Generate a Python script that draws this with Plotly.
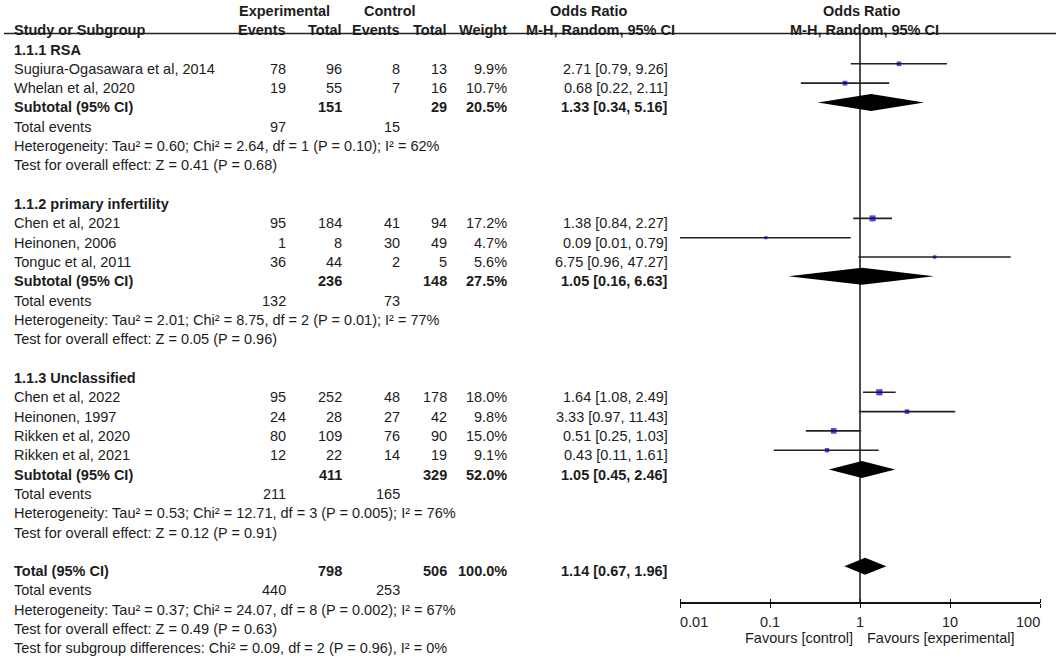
import numpy as np
import plotly.graph_objects as go

# study level data
studies = ["Sugiura-Ogasawara et al, 2014", "Whelan et al, 2020",
           "Chen et al, 2021", "Heinonen, 2006", "Tonguc et al, 2011",
           "Chen et al, 2022", "Heinonen, 1997", "Rikken et al, 2020", "Rikken et al, 2021"]
study_group = [0, 0, 1, 1, 1, 2, 2, 2, 2]
exp_events = [78, 19, 95, 1, 36, 95, 24, 80, 12]
exp_total = [96, 55, 184, 8, 44, 252, 28, 109, 22]
ctl_events = [8, 7, 41, 30, 2, 48, 27, 76, 14]
ctl_total = [13, 16, 94, 49, 5, 178, 42, 90, 19]
weight = [9.9, 10.7, 17.2, 4.7, 5.6, 18.0, 9.8, 15.0, 9.1]
or_est = [2.71, 0.68, 1.38, 0.09, 6.75, 1.64, 3.33, 0.51, 0.43]
or_lo = [0.79, 0.22, 0.84, 0.01, 0.96, 1.08, 0.97, 0.25, 0.11]
or_hi = [9.26, 2.11, 2.27, 0.79, 47.27, 2.49, 11.43, 1.03, 1.61]

# subgroup data
group_names = ["1.1.1 RSA", "1.1.2 primary infertility", "1.1.3 Unclassified"]
sub_exp_total = [151, 236, 411]
sub_ctl_total = [29, 148, 329]
sub_weight = [20.5, 27.5, 52.0]
sub_est = [1.33, 1.05, 1.05]
sub_lo = [0.34, 0.16, 0.45]
sub_hi = [5.16, 6.63, 2.46]
sub_exp_events = [97, 132, 211]
sub_ctl_events = [15, 73, 165]
sub_het = ["Heterogeneity: Tau² = 0.60; Chi² = 2.64, df = 1 (P = 0.10); I² = 62%",
           "Heterogeneity: Tau² = 2.01; Chi² = 8.75, df = 2 (P = 0.01); I² = 77%",
           "Heterogeneity: Tau² = 0.53; Chi² = 12.71, df = 3 (P = 0.005); I² = 76%"]
sub_test = ["Test for overall effect: Z = 0.41 (P = 0.68)",
            "Test for overall effect: Z = 0.05 (P = 0.96)",
            "Test for overall effect: Z = 0.12 (P = 0.91)"]

# overall
tot_exp_total, tot_ctl_total, tot_weight = 798, 506, 100.0
tot_est, tot_lo, tot_hi = 1.14, 0.67, 1.96
tot_exp_events, tot_ctl_events = 440, 253
tot_het = "Heterogeneity: Tau² = 0.37; Chi² = 24.07, df = 8 (P = 0.002); I² = 67%"
tot_test = "Test for overall effect: Z = 0.49 (P = 0.63)"
subgroup_test = "Test for subgroup differences: Chi² = 0.09, df = 2 (P = 0.96), I² = 0%"

tick_vals = [0.01, 0.1, 1, 10, 100]
tick_text = ["0.01", "0.1", "1", "10", "100"]

W, H = 1056, 660
ROW0, PITCH = 44.5, 19.32   # pixel y of first row, row spacing


def px_row(py):
    return (py - ROW0) / PITCH


FONT = "Liberation Sans, Arial, sans-serif"
FS = 14.5
TXT = "#1c1c1c"
# column x positions (pixels)
X_LABEL, X_EE, X_ET, X_CE, X_CT, X_W, X_OR = 14, 286, 342, 400, 447, 507, 668

fig = go.Figure()


def txt(s, xpx, row, anchor="left", bold=False):
    fig.add_annotation(text=f"<b>{s}</b>" if bold else s, x=xpx / W, xref="paper",
                       y=row, yref="y", yshift=-5, xanchor=anchor, yanchor="middle",
                       showarrow=False, borderpad=0, borderwidth=0,
                       font=dict(family=FONT, size=FS, color=TXT))


def or_str(e, l, h):
    return f"{e:.2f} [{l:.2f}, {h:.2f}]"


# headers
txt("Experimental", 284, -2, "center", True)
txt("Control", 390, -2, "center", True)
txt("Odds Ratio", 588, -2, "center", True)
txt("Odds Ratio", 861, -2, "center", True)
txt("Study or Subgroup", X_LABEL, -1, bold=True)
txt("Events", X_EE, -1, "right", True)
txt("Total", X_ET, -1, "right", True)
txt("Events", X_CE, -1, "right", True)
txt("Total", X_CT, -1, "right", True)
txt("Weight", X_W, -1, "right", True)
txt("M-H, Random, 95% CI", 600, -1, "center", True)
txt("M-H, Random, 95% CI", 864, -1, "center", True)

study_rows = []
sub_rows = []
r = 0
for g, name in enumerate(group_names):
    txt(name, X_LABEL, r, bold=True)
    r += 1
    for i in range(len(studies)):
        if study_group[i] != g:
            continue
        txt(studies[i], X_LABEL, r)
        txt(str(exp_events[i]), X_EE, r, "right")
        txt(str(exp_total[i]), X_ET, r, "right")
        txt(str(ctl_events[i]), X_CE, r, "right")
        txt(str(ctl_total[i]), X_CT, r, "right")
        txt(f"{weight[i]:.1f}%", X_W, r, "right")
        txt(or_str(or_est[i], or_lo[i], or_hi[i]), X_OR, r, "right")
        study_rows.append(r)
        r += 1
    txt("Subtotal (95% CI)", X_LABEL, r, bold=True)
    txt(str(sub_exp_total[g]), X_ET, r, "right", True)
    txt(str(sub_ctl_total[g]), X_CT, r, "right", True)
    txt(f"{sub_weight[g]:.1f}%", X_W, r, "right", True)
    txt(or_str(sub_est[g], sub_lo[g], sub_hi[g]), X_OR, r, "right", True)
    sub_rows.append(r)
    r += 1
    txt("Total events", X_LABEL, r)
    txt(str(sub_exp_events[g]), X_EE, r, "right")
    txt(str(sub_ctl_events[g]), X_CE, r, "right")
    r += 1
    txt(sub_het[g], X_LABEL, r)
    r += 1
    txt(sub_test[g], X_LABEL, r)
    r += 2

tot_row = r
txt("Total (95% CI)", X_LABEL, r, bold=True)
txt(str(tot_exp_total), X_ET, r, "right", True)
txt(str(tot_ctl_total), X_CT, r, "right", True)
txt(f"{tot_weight:.1f}%", X_W, r, "right", True)
txt(or_str(tot_est, tot_lo, tot_hi), X_OR, r, "right", True)
txt("Total events", X_LABEL, r + 1)
txt(str(tot_exp_events), X_EE, r + 1, "right")
txt(str(tot_ctl_events), X_CE, r + 1, "right")
txt(tot_het, X_LABEL, r + 2)
txt(tot_test, X_LABEL, r + 3)
txt(subgroup_test, X_LABEL, r + 4)

# header rule
fig.add_shape(type="line", xref="paper", yref="y", x0=4 / W, x1=1,
              y0=px_row(33.5), y1=px_row(33.5), line=dict(color="#222222", width=1.3))

axis_row = px_row(603)

# line of no effect
fig.add_trace(go.Scatter(x=[1, 1], y=[px_row(34), axis_row], mode="lines",
                         line=dict(color="#111111", width=1.5), hoverinfo="skip"))

# confidence intervals
ci_x, ci_y = [], []
for lo, hi, yr in zip(or_lo, or_hi, study_rows):
    ci_x += [lo, hi, None]
    ci_y += [yr, yr, None]
fig.add_trace(go.Scatter(x=ci_x, y=ci_y, mode="lines",
                         line=dict(color="#222222", width=1.6), hoverinfo="skip"))

# weighted squares
fig.add_trace(go.Scatter(x=or_est, y=study_rows, mode="markers",
                         marker=dict(symbol="square", color="#0000b0",
                                     size=[1.45 * np.sqrt(w) for w in weight],
                                     line=dict(width=0))))

# diamonds
HD = 0.44
for e, lo, hi, yr in zip(sub_est + [tot_est], sub_lo + [tot_lo], sub_hi + [tot_hi],
                         sub_rows + [tot_row]):
    fig.add_trace(go.Scatter(x=[lo, e, hi, e, lo], y=[yr, yr - HD, yr, yr + HD, yr],
                             mode="lines", fill="toself", fillcolor="black",
                             line=dict(width=0, color="black"), hoverinfo="skip"))

# tick labels and favours labels
for k, (v, t) in enumerate(zip(tick_vals, tick_text)):
    anchor = "left" if k == 0 else ("right" if k == len(tick_vals) - 1 else "center")
    fig.add_annotation(text=t, x=np.log10(v), xref="x", y=px_row(622), yref="y",
                       xanchor=anchor, yanchor="middle", showarrow=False,
                       borderpad=0, borderwidth=0,
                       font=dict(family=FONT, size=FS, color=TXT))
fig.add_annotation(text="Favours [control]", x=0, xref="x", xshift=-7, y=px_row(638),
                   yref="y", xanchor="right", yanchor="middle", showarrow=False,
                   borderpad=0, borderwidth=0, font=dict(family=FONT, size=FS, color=TXT))
fig.add_annotation(text="Favours [experimental]", x=0, xref="x", xshift=7, y=px_row(638),
                   yref="y", xanchor="left", yanchor="middle", showarrow=False,
                   borderpad=0, borderwidth=0, font=dict(family=FONT, size=FS, color=TXT))

axis_pos = (H - 603) / H
common = dict(type="log", range=[-2, 2], showgrid=False, zeroline=False,
              tickvals=tick_vals, showticklabels=False, ticks="outside", ticklen=4,
              tickwidth=1.3, tickcolor="#111111")
fig.update_layout(
    width=W, height=H, margin=dict(l=0, r=0, t=0, b=0),
    paper_bgcolor="white", plot_bgcolor="white", showlegend=False,
    xaxis=dict(domain=[680 / W, 1040 / W], anchor="free", position=axis_pos,
               showline=True, linecolor="#111111", linewidth=1.5, **common),
    xaxis2=dict(overlaying="x", side="top", anchor="free", position=axis_pos,
                showline=False, **common),
    yaxis=dict(domain=[0, 1], range=[px_row(H), px_row(0)], visible=False),
)
# dummy trace to activate the top tick axis
fig.add_trace(go.Scatter(x=[1], y=[axis_row], xaxis="x2", mode="markers",
                         marker=dict(opacity=0), hoverinfo="skip"))

# page body has a default 8px margin; remove it so the figure fills the window
fig.write_html("out.html", config={"displayModeBar": False},
               post_script="document.body.style.margin='0px';")
